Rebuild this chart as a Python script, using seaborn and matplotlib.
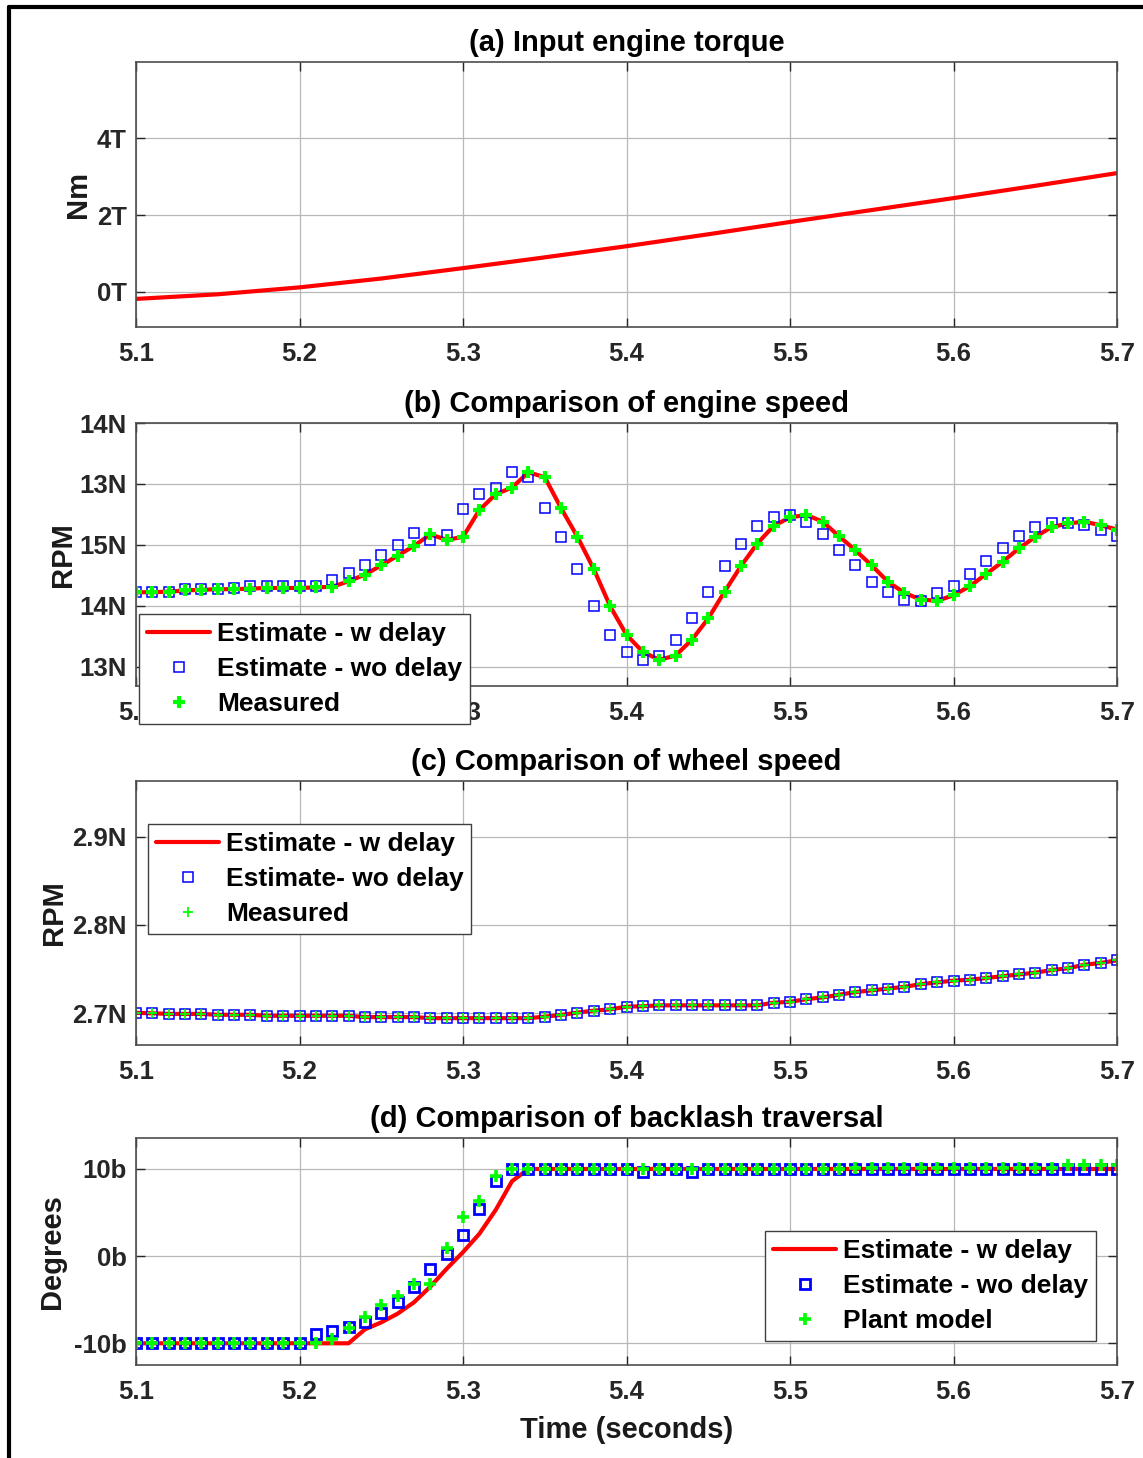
import numpy as np
import matplotlib
matplotlib.use("Agg")
import matplotlib.pyplot as plt
from matplotlib.lines import Line2D
import seaborn as sns

# ---------------------------------------------------------------- data
# common sample grid (s)
time = np.round(np.arange(5.10, 5.7001, 0.01), 2)

# (a) input engine torque
torque_time = [5.10, 5.15, 5.20, 5.25, 5.30, 5.35, 5.40, 5.45, 5.50, 5.55, 5.60, 5.65, 5.70]
torque = [-0.18, -0.06, 0.12, 0.35, 0.62, 0.90, 1.19, 1.50, 1.82, 2.13, 2.44, 2.76, 3.09]
torque_ticks = [0, 2, 4]
torque_ticklabels = ["0T", "2T", "4T"]

# (b) engine speed
eng_w_delay = [1.22, 1.22, 1.23, 1.25, 1.26, 1.27, 1.27, 1.28, 1.29, 1.29,
               1.29, 1.30, 1.31, 1.40, 1.51, 1.66, 1.82, 1.98, 2.17, 2.08,
               2.13, 2.57, 2.83, 2.94, 3.19, 3.11, 2.60, 2.13, 1.60, 0.99,
               0.52, 0.24, 0.11, 0.18, 0.44, 0.79, 1.23, 1.65, 2.02, 2.31,
               2.45, 2.49, 2.38, 2.14, 1.91, 1.66, 1.39, 1.21, 1.10, 1.08,
               1.17, 1.32, 1.52, 1.72, 1.94, 2.13, 2.29, 2.35, 2.38, 2.32,
               2.25]
eng_wo_delay = [1.22, 1.22, 1.23, 1.27, 1.28, 1.28, 1.29, 1.32, 1.32, 1.32,
                1.32, 1.32, 1.42, 1.53, 1.66, 1.83, 1.99, 2.19, 2.08, 2.16,
                2.58, 2.83, 2.94, 3.19, 3.11, 2.60, 2.13, 1.60, 0.99, 0.51,
                0.24, 0.11, 0.18, 0.44, 0.80, 1.23, 1.65, 2.02, 2.31, 2.45,
                2.49, 2.38, 2.17, 1.92, 1.66, 1.39, 1.23, 1.10, 1.08, 1.20,
                1.32, 1.52, 1.74, 1.94, 2.14, 2.29, 2.35, 2.36, 2.32, 2.25,
                2.14]
eng_measured = [1.22, 1.22, 1.23, 1.25, 1.26, 1.27, 1.27, 1.28, 1.29, 1.29,
                1.29, 1.30, 1.31, 1.40, 1.51, 1.66, 1.82, 1.98, 2.17, 2.08,
                2.13, 2.57, 2.83, 2.94, 3.19, 3.11, 2.60, 2.13, 1.60, 0.99,
                0.52, 0.24, 0.11, 0.18, 0.44, 0.79, 1.23, 1.65, 2.02, 2.31,
                2.45, 2.49, 2.38, 2.14, 1.91, 1.66, 1.39, 1.21, 1.10, 1.08,
                1.17, 1.32, 1.52, 1.72, 1.94, 2.13, 2.29, 2.35, 2.38, 2.32,
                2.25]
eng_ticks = [0, 1, 2, 3, 4]
eng_ticklabels = ["13N", "14N", "15N", "13N", "14N"]

# (c) wheel speed
wheel_w_delay = [2.7005, 2.7000, 2.6993, 2.6993, 2.6993, 2.6983, 2.6983, 2.6983, 2.6972, 2.6972,
                 2.6972, 2.6972, 2.6972, 2.6972, 2.6957, 2.6957, 2.6957, 2.6957, 2.6945, 2.6945,
                 2.6945, 2.6945, 2.6945, 2.6945, 2.6945, 2.6962, 2.6981, 2.7008, 2.7030, 2.7045,
                 2.7075, 2.7080, 2.7090, 2.7090, 2.7090, 2.7090, 2.7090, 2.7090, 2.7090, 2.7120,
                 2.7130, 2.7160, 2.7180, 2.7210, 2.7240, 2.7260, 2.7280, 2.7300, 2.7330, 2.7350,
                 2.7370, 2.7380, 2.7400, 2.7420, 2.7440, 2.7460, 2.7490, 2.7510, 2.7550, 2.7570,
                 2.7600]
wheel_wo_delay = [2.7005, 2.7000, 2.6993, 2.6993, 2.6993, 2.6983, 2.6983, 2.6983, 2.6972, 2.6972,
                  2.6972, 2.6972, 2.6972, 2.6972, 2.6957, 2.6957, 2.6957, 2.6957, 2.6945, 2.6945,
                  2.6945, 2.6945, 2.6945, 2.6945, 2.6945, 2.6962, 2.6981, 2.7008, 2.7030, 2.7045,
                  2.7075, 2.7080, 2.7090, 2.7090, 2.7090, 2.7090, 2.7090, 2.7090, 2.7090, 2.7120,
                  2.7130, 2.7160, 2.7180, 2.7210, 2.7240, 2.7260, 2.7280, 2.7300, 2.7330, 2.7350,
                  2.7370, 2.7380, 2.7400, 2.7420, 2.7440, 2.7460, 2.7490, 2.7510, 2.7550, 2.7570,
                  2.7600]
wheel_measured = [2.7005, 2.7000, 2.6993, 2.6993, 2.6993, 2.6983, 2.6983, 2.6983, 2.6972, 2.6972,
                  2.6972, 2.6972, 2.6972, 2.6972, 2.6957, 2.6957, 2.6957, 2.6957, 2.6945, 2.6945,
                  2.6945, 2.6945, 2.6945, 2.6945, 2.6945, 2.6962, 2.6981, 2.7008, 2.7030, 2.7045,
                  2.7075, 2.7080, 2.7090, 2.7090, 2.7090, 2.7090, 2.7090, 2.7090, 2.7090, 2.7120,
                  2.7130, 2.7160, 2.7180, 2.7210, 2.7240, 2.7260, 2.7280, 2.7300, 2.7330, 2.7350,
                  2.7370, 2.7380, 2.7400, 2.7420, 2.7440, 2.7460, 2.7490, 2.7510, 2.7550, 2.7570,
                  2.7600]
wheel_ticks = [2.7, 2.8, 2.9]
wheel_ticklabels = ["2.7N", "2.8N", "2.9N"]

# (d) backlash traversal
bl_w_delay = [-10, -10, -10, -10, -10, -10, -10, -10, -10, -10,
              -10, -10, -10, -10, -8.4, -7.6, -6.6, -5.3, -3.5, -1.45,
              0.46, 2.56, 5.3, 8.6, 10, 10, 10, 10, 10, 10,
              10, 10, 10, 10, 10, 10, 10, 10, 10, 10,
              10, 10, 10, 10, 10, 10, 10, 10, 10, 10,
              10, 10, 10, 10, 10, 10, 10, 10, 10, 10,
              10]
bl_wo_delay = [-10, -10, -10, -10, -10, -10, -10, -10, -10, -10,
               -10, -8.93, -8.55, -8.09, -7.53, -6.57, -5.24, -3.59, -1.45, 0.19,
               2.47, 5.37, 8.66, 10, 10, 10, 10, 10, 10, 10,
               10, 9.7, 10, 10, 9.7, 10, 10, 10, 10, 10,
               10, 10, 10, 10, 10, 10, 10, 10, 10, 10,
               10, 10, 10, 10, 10, 10, 10, 10, 10, 10,
               10]
bl_plant = [-10, -10, -10, -10, -10, -10, -10, -10, -10, -10,
            -10, -10, -9.5, -8.2, -7.0, -5.66, -4.63, -3.25, -3.25, 0.96,
            4.47, 6.3, 9.2, 10, 10, 10, 10, 10, 10, 10,
            10, 10, 10, 10, 10, 10, 10, 10, 10, 10,
            10, 10, 10, 10, 10.15, 10.15, 10.15, 10.15, 10.15, 10.15,
            10.15, 10.15, 10.15, 10.15, 10.15, 10.15, 10.15, 10.45, 10.45, 10.45,
            10.45]
bl_ticks = [-10, 0, 10]
bl_ticklabels = ["-10b", "0b", "10b"]

x_ticks = [5.1, 5.2, 5.3, 5.4, 5.5, 5.6, 5.7]
x_ticklabels = ["5.1", "5.2", "5.3", "5.4", "5.5", "5.6", "5.7"]

# ---------------------------------------------------------------- style
sns.set_theme(style="whitegrid")
plt.rcParams["font.family"] = ["Liberation Sans", "DejaVu Sans"]
plt.rcParams.update({
    "font.weight": "bold",
    "axes.titleweight": "bold",
    "axes.labelweight": "bold",
    "axes.labelcolor": "#1a1a1a",
    "text.color": "black",
    "axes.axisbelow": True,
})

RED, BLUE, GREEN = "#ff0000", "#0000ff", "#00ff00"
TICK_COLOR = "#262626"

fig = plt.figure(figsize=(11.43, 14.58), dpi=100)
W, H = 1143.0, 1458.0


def add_panel(top_px, bottom_px):
    left, right = 136.0, 1117.0
    return fig.add_axes([left / W, 1 - bottom_px / H,
                         (right - left) / W, (bottom_px - top_px) / H])


def style_axes(ax, ylim, yticks, yticklabels, title, ylabel, ylabel_x):
    ax.set_xlim(5.1, 5.7)
    ax.set_ylim(*ylim)
    ax.set_xticks(x_ticks)
    ax.set_xticklabels(x_ticklabels)
    ax.set_yticks(yticks)
    ax.set_yticklabels(yticklabels)
    ax.grid(True, color="#b8b8b8", linewidth=0.9)
    ax.tick_params(axis="both", direction="in", length=6.5, width=1,
                   color=TICK_COLOR, labelcolor=TICK_COLOR, labelsize=18.5,
                   top=True, right=True, bottom=True, left=True)
    ax.tick_params(axis="x", pad=11)
    ax.tick_params(axis="y", pad=6.5)
    for lbl in ax.get_xticklabels() + ax.get_yticklabels():
        lbl.set_fontweight("bold")
    for sp in ax.spines.values():
        sp.set_color("#4d4d4d")
        sp.set_linewidth(1.2)
    ax.set_title(title, fontsize=21, fontweight="bold", pad=8, color="black")
    ax.set_xlabel("")
    ax.set_ylabel(ylabel, fontsize=21, fontweight="bold")
    ax.yaxis.set_label_coords(ylabel_x, 0.5)


def add_legend(ax, anchor_px, loc):
    handles, labels = ax.get_legend_handles_labels()
    leg = ax.legend(handles, labels, loc=loc,
                    bbox_to_anchor=(anchor_px[0] / W, 1 - anchor_px[1] / H),
                    bbox_transform=fig.transFigure,
                    prop={"size": 19, "weight": "bold"},
                    frameon=True, fancybox=False, framealpha=1,
                    edgecolor="#404040", borderpad=0.3, labelspacing=0.42,
                    handlelength=2.4, handletextpad=0.25, borderaxespad=0)
    leg.get_frame().set_linewidth(1.0)
    leg.set_zorder(10)
    for txt in leg.get_texts():
        txt.set_color("black")
    return leg


# ---------------------------------------------------------------- (a)
ax_a = add_panel(62.3, 327.0)
sns.lineplot(x=torque_time, y=torque, ax=ax_a, color=RED, linewidth=3,
             errorbar=None, sort=False)
style_axes(ax_a, (-0.91, 5.97), torque_ticks, torque_ticklabels,
           "(a) Input engine torque", "Nm", -0.045)

# ---------------------------------------------------------------- (b)
ax_b = add_panel(422.7, 686.0)
sns.lineplot(x=time, y=eng_w_delay, ax=ax_b, color=RED, linewidth=3,
             errorbar=None, sort=False, label="Estimate - w delay")
sns.lineplot(x=time, y=eng_wo_delay, ax=ax_b, color=BLUE, linestyle="",
             marker="s", markersize=7.5, markerfacecolor="none",
             markeredgecolor=BLUE, markeredgewidth=1.1,
             errorbar=None, sort=False, label="Estimate - wo delay")
sns.lineplot(x=time, y=eng_measured, ax=ax_b, color=GREEN, linestyle="",
             marker="+", markersize=8, markeredgecolor=GREEN,
             markeredgewidth=3.0, errorbar=None, sort=False, label="Measured")
style_axes(ax_b, (-0.32, 4.005), eng_ticks, eng_ticklabels,
           "(b) Comparison of engine speed", "RPM", -0.060)
add_legend(ax_b, (139, 614), "upper left")

# ---------------------------------------------------------------- (c)
ax_c = add_panel(780.7, 1045.0)
sns.lineplot(x=time, y=wheel_w_delay, ax=ax_c, color=RED, linewidth=3,
             errorbar=None, sort=False, label="Estimate - w delay")
sns.lineplot(x=time, y=wheel_wo_delay, ax=ax_c, color=BLUE, linestyle="",
             marker="s", markersize=7.5, markerfacecolor="none",
             markeredgecolor=BLUE, markeredgewidth=1.1,
             errorbar=None, sort=False, label="Estimate- wo delay")
sns.lineplot(x=time, y=wheel_measured, ax=ax_c, color=GREEN, linestyle="",
             marker="+", markersize=7.5, markeredgecolor=GREEN,
             markeredgewidth=1.3, errorbar=None, sort=False, label="Measured")
style_axes(ax_c, (2.6641, 2.9634), wheel_ticks, wheel_ticklabels,
           "(c) Comparison of wheel speed", "RPM", -0.069)
add_legend(ax_c, (148, 824), "upper left")

# ---------------------------------------------------------------- (d)
ax_d = add_panel(1138.3, 1365.0)
sns.lineplot(x=time, y=bl_w_delay, ax=ax_d, color=RED, linewidth=3,
             errorbar=None, sort=False, label="Estimate - w delay")
sns.lineplot(x=time, y=bl_wo_delay, ax=ax_d, color=BLUE, linestyle="",
             marker="s", markersize=7, markerfacecolor="none",
             markeredgecolor=BLUE, markeredgewidth=2.0,
             errorbar=None, sort=False, label="Estimate - wo delay")
sns.lineplot(x=time, y=bl_plant, ax=ax_d, color=GREEN, linestyle="",
             marker="+", markersize=8.5, markeredgecolor=GREEN,
             markeredgewidth=2.6, errorbar=None, sort=False, label="Plant model")
style_axes(ax_d, (-12.49, 13.52), bl_ticks, bl_ticklabels,
           "(d) Comparison of backlash traversal", "Degrees", -0.0714)
ax_d.set_xlabel("Time (seconds)", fontsize=21, fontweight="bold")
ax_d.xaxis.set_label_coords(0.5, -0.225)
add_legend(ax_d, (1096, 1231), "upper right")

# ---------------------------------------------------------------- frame
fig.add_artist(Line2D([9.3 / W, 1.0], [1 - 7 / H, 1 - 7 / H],
                      transform=fig.transFigure, color="black", linewidth=3))
fig.add_artist(Line2D([9.3 / W, 9.3 / W], [0.0, 1 - 7 / H],
                      transform=fig.transFigure, color="black", linewidth=3))

fig.savefig("out.png", dpi=100, facecolor="white")
